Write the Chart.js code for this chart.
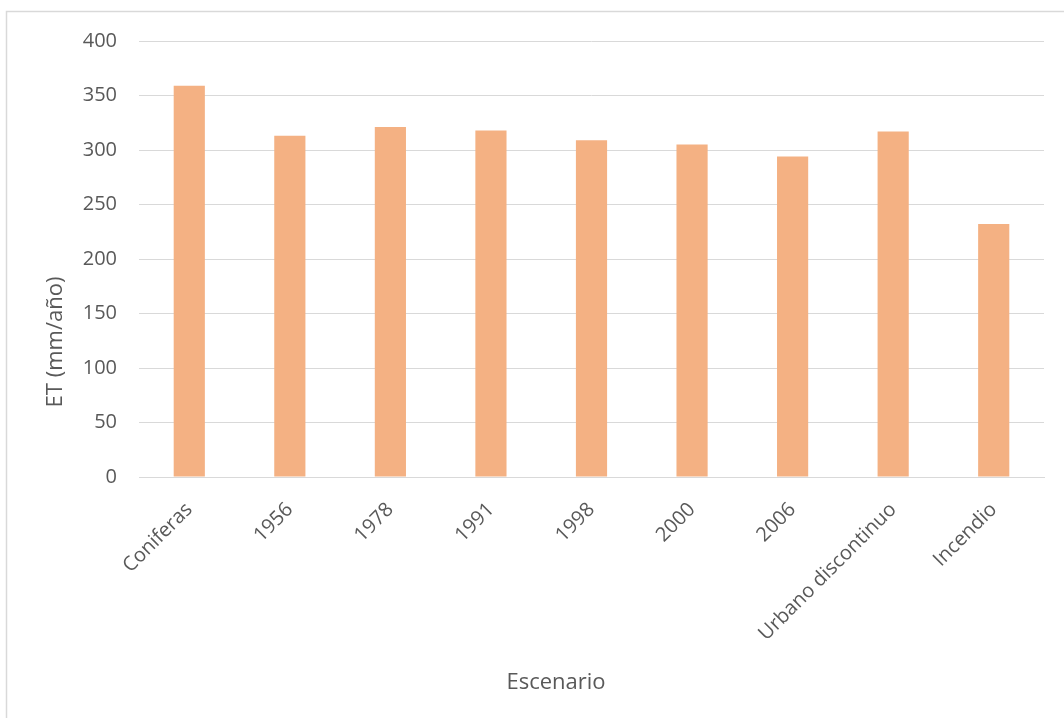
<!DOCTYPE html>
<html>
<head>
<meta charset="utf-8">
<script src="https://cdn.jsdelivr.net/npm/chart.js@4/dist/chart.umd.min.js"></script>
<style>
  html, body { margin: 0; padding: 0; background: #ffffff; }
  #wrap { position: relative; width: 1064px; height: 718px; }
</style>
</head>
<body>
<div id="wrap"><canvas id="chart" width="1064" height="718"></canvas></div>
<script>
// Evapotranspiración anual por escenario de cobertura
const escenarios = ['Coniferas', '1956', '1978', '1991', '1998', '2000', '2006', 'Urbano discontinuo', 'Incendio'];
const etAnual = [359, 313, 321, 318, 309, 305, 294, 317, 232];
const yTicks = [0, 50, 100, 150, 200, 250, 300, 350, 400];

const FONT = '"Open Sans", sans-serif';
const TEXT = '#595959';
const GRID = '#d9d9d9';

// Marco gris claro del área del gráfico y títulos de ejes
const decoraciones = {
  id: 'decoraciones',
  beforeDraw(chart) {
    const ctx = chart.ctx;
    ctx.save();
    ctx.strokeStyle = GRID;
    ctx.lineWidth = 1.5;
    ctx.strokeRect(6.5, 11.5, 1200, 900);
    ctx.restore();
  },
  afterDraw(chart) {
    const ctx = chart.ctx;
    ctx.save();
    ctx.fillStyle = TEXT;
    ctx.font = '22px ' + FONT;
    ctx.textAlign = 'center';
    ctx.textBaseline = 'alphabetic';
    ctx.fillText('Escenario', 556, 689);
    ctx.translate(62, 342);
    ctx.rotate(-Math.PI / 2);
    ctx.fillText('ET (mm/año)', 0, 0);
    ctx.restore();
  }
};

new Chart(document.getElementById('chart'), {
  type: 'bar',
  data: {
    labels: escenarios,
    datasets: [{
      data: etAnual,
      backgroundColor: '#F4B183',
      borderWidth: 0,
      barPercentage: 0.31,
      categoryPercentage: 1.0
    }]
  },
  options: {
    responsive: false,
    animation: false,
    layout: { padding: { top: 41, right: 20, bottom: 0, left: 0 } },
    plugins: { legend: { display: false }, tooltip: { enabled: false } },
    scales: {
      x: {
        grid: { display: false, drawTicks: false },
        border: { display: true, color: GRID, width: 1 },
        ticks: {
          autoSkip: false,
          minRotation: 45,
          maxRotation: 45,
          padding: 21,
          color: TEXT,
          font: { family: FONT, size: 20 }
        },
        afterFit(scale) { scale.height = 241; }
      },
      y: {
        min: 0,
        max: 400,
        afterBuildTicks(scale) { scale.ticks = yTicks.map(v => ({ value: v })); },
        grid: { color: GRID, lineWidth: 1, drawTicks: false },
        border: { display: false },
        ticks: {
          padding: 22,
          color: TEXT,
          font: { family: FONT, size: 20 }
        },
        afterFit(scale) { scale.width = 139; }
      }
    }
  },
  plugins: [decoraciones]
});
</script>
</body>
</html>
